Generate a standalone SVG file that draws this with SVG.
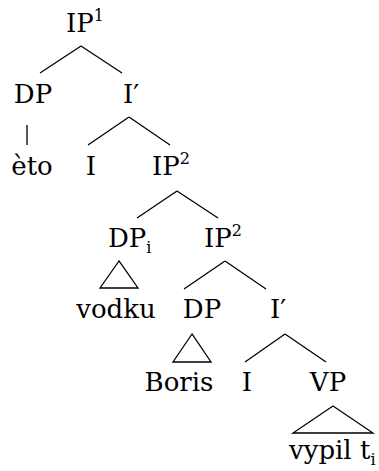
<svg xmlns="http://www.w3.org/2000/svg" width="379" height="471" viewBox="0 0 379 471">
<style>
.t{font-family:'DejaVu Serif',serif;font-size:26px;fill:#000}
.m{text-anchor:middle}
.s{font-size:16px}
.e{fill:none;stroke:#000;stroke-width:1.3}
</style>
<rect width="379" height="471" fill="#fff"/>
<g id="connectors" class="e">
<path d="M81 46 L40 73 M81 46 L122 73"/>
<path d="M27 125 L27 145"/>
<path d="M129 117 L88 145 M129 117 L170 145"/>
<path d="M177 191 L137 218 M177 191 L218 218"/>
<path d="M225 261 L184 289 M225 261 L266 289"/>
<path d="M285 334 L245 362 M285 334 L326 362"/>
<path d="M119 261 L100 288 L138 288 Z"/>
<path d="M192 334 L173 362 L211 362 Z"/>
<path d="M333 406 L293 433 L373 433 Z"/>
</g>
<g id="IP1"><text class="t" x="66" y="32">IP<tspan class="s" dy="-11">1</tspan></text></g>
<g id="DP1"><text class="t m" x="33" y="103">DP</text></g>
<g id="Ibar1"><text class="t m" x="131" y="103">I′</text></g>
<g id="eto"><text class="t m" x="32" y="175">èto</text></g>
<g id="I1"><text class="t m" x="91" y="175">I</text></g>
<g id="IP2a"><text class="t" x="152" y="175">IP<tspan class="s" dy="-11">2</tspan></text></g>
<g id="DPi"><text class="t" x="108" y="247">DP<tspan class="s" dy="6">i</tspan></text></g>
<g id="IP2b"><text class="t" x="204" y="247">IP<tspan class="s" dy="-11">2</tspan></text></g>
<g id="vodku"><text class="t m" x="116" y="318">vodku</text></g>
<g id="DP2"><text class="t m" x="202" y="318">DP</text></g>
<g id="Ibar2"><text class="t m" x="278" y="318">I′</text></g>
<g id="Boris"><text class="t m" x="179" y="391">Boris</text></g>
<g id="I2"><text class="t m" x="247" y="391">I</text></g>
<g id="VP"><text class="t m" x="328" y="391">VP</text></g>
<g id="vypil"><text class="t" x="289" y="459">vypil t<tspan class="s" dy="6">i</tspan></text></g>
</svg>
